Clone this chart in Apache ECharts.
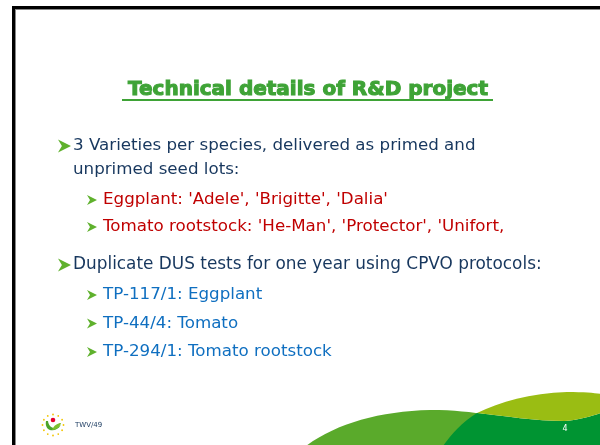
<!DOCTYPE html>
<html>
<head>
<meta charset="utf-8">
<script src="https://cdn.jsdelivr.net/npm/echarts@6/dist/echarts.min.js"></script>
<style>
  html, body { margin: 0; padding: 0; background: #fff; }
  #main { width: 600px; height: 445px; }
</style>
</head>
<body>
<div id="main"></div>
<script>
const title = 'Technical details of R&D project'
const introLines = ['3 Varieties per species, delivered as primed and', 'unprimed seed lots:']
const varieties = ["Eggplant: 'Adele', 'Brigitte', 'Dalia'", "Tomato rootstock: 'He-Man', 'Protector', 'Unifort,"]
const testLine = 'Duplicate DUS tests for one year using CPVO protocols:'
const protocols = ['TP-117/1: Eggplant', 'TP-44/4: Tomato', 'TP-294/1: Tomato rootstock']
const footerCode = 'TWV/49'
const pageNo = '4'

const FONT = '"DejaVu Sans", sans-serif'
const NAVY = '#17375e'
const RED = '#c00000'
const BLUE = '#0f6fc0'
const BULLET = '#5fb12d'
const TITLE_GREEN = '#3ea336'

// decorative svg paths, registered as graphic shapes
const decoPaths = {
  hillMid: 'M306,446 C335,424 380,411 430,410 C455,410 470,412 490,415 L520,446 Z',
  hillDark: 'M443,446 C450,436 462,422 477,413 C505,416 535,421 565,421 C580,420 592,416 601,413 L601,446 Z',
  hillLight: 'M477,413 C500,402 530,393 567,392 C585,392 595,393 601,394 L601,413 C592,416 580,420 565,421 C535,421 505,416 477,413 Z',
  logoLeaf: 'M46,421 C44,431 55,434 61,425 C56,430 49,429 48,421 Z',
  logoLeaf2: 'M52,430 C54,425 58,423 61,423 C60,427 56,430 52,430 Z'
}
Object.keys(decoPaths).forEach(k => {
  echarts.graphic.registerShape(k, echarts.graphic.extendPath(decoPaths[k], {}))
})

const chart = echarts.init(document.getElementById('main'), null, { renderer: 'canvas' })

// arrowhead bullet
const arrow = (x, y, s) => ({
  type: 'polygon',
  shape: { points: [[x, y - s / 2], [x + s, y], [x, y + s / 2], [x + s * 0.3, y]] },
  style: { fill: BULLET }
})

const text = (str, x, y, color, size, extra) => ({
  type: 'text',
  style: Object.assign({
    text: str, x: x, y: y, fill: color,
    fontSize: size, fontFamily: FONT, verticalAlign: 'middle'
  }, extra || {})
})

const els = []

// slide frame (black + grey line at top/left)
els.push({ type: 'rect', shape: { x: 12, y: 6, width: 600, height: 3 }, style: { fill: '#000' } })
els.push({ type: 'rect', shape: { x: 12, y: 6, width: 3, height: 445 }, style: { fill: '#000' } })
els.push({ type: 'rect', shape: { x: 15, y: 9, width: 600, height: 1 }, style: { fill: '#888' } })
els.push({ type: 'rect', shape: { x: 15, y: 9, width: 1, height: 445 }, style: { fill: '#888' } })

// hills bottom right
els.push({ type: 'hillMid', style: { fill: '#5aaa2b' } })
els.push({ type: 'hillDark', style: { fill: '#009432' } })
els.push({ type: 'hillLight', style: { fill: '#9abd13' } })

// title with underline (stroke thickens the glyphs)
els.push(text(title, 308, 90, TITLE_GREEN, 20, {
  fontWeight: 'bold', align: 'center', stroke: TITLE_GREEN, lineWidth: 1.1
}))
els.push({ type: 'rect', shape: { x: 122, y: 99, width: 371, height: 2 }, style: { fill: TITLE_GREEN } })

// first bullet
els.push(arrow(58, 146, 13))
introLines.forEach((l, i) => els.push(text(l, 73, 146 + i * 24, NAVY, 16.7)))

varieties.forEach((l, i) => {
  const y = 200 + i * 27
  els.push(arrow(87, y, 10))
  els.push(text(l, 103, y, RED, 16.7))
})

els.push(arrow(58, 265, 13))
els.push(text(testLine, 73, 265, NAVY, 16.9))

protocols.forEach((l, i) => {
  const y = 295 + i * 28.5
  els.push(arrow(87, y, 10))
  els.push(text(l, 103, y, BLUE, 16.7))
})

// footer logo
for (let k = 0; k < 12; k++) {
  const a = k / 12 * Math.PI * 2
  els.push({ type: 'circle', shape: { cx: 53 + Math.cos(a) * 10.5, cy: 425 + Math.sin(a) * 10.5, r: 0.9 }, style: { fill: '#f2c500' } })
}
els.push({ type: 'logoLeaf', style: { fill: '#4ca42b' } })
els.push({ type: 'logoLeaf2', style: { fill: '#7cbf2d' } })
els.push({ type: 'circle', shape: { cx: 53, cy: 420, r: 2.3 }, style: { fill: '#e4002b' } })
els.push(text(footerCode, 75, 425, NAVY, 7))
els.push(text(pageNo, 565, 429, '#fff', 8, { align: 'center' }))

chart.setOption({
  animation: false,
  graphic: { elements: els }
})
</script>
</body>
</html>
